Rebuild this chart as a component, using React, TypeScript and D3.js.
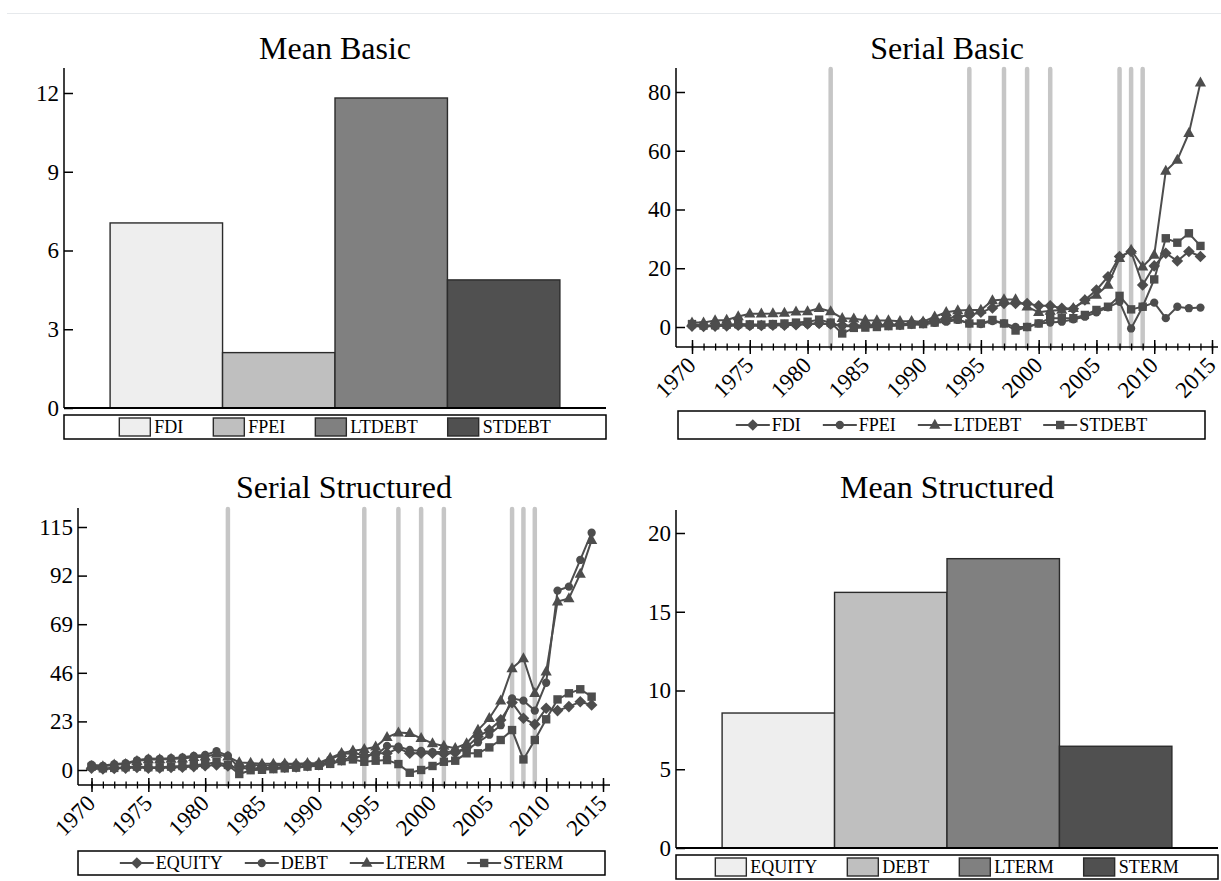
import * as d3 from "d3";
import { useEffect, useRef } from "react";

// ---- data ----
const years = [
  1970, 1971, 1972, 1973, 1974, 1975, 1976, 1977, 1978, 1979,
  1980, 1981, 1982, 1983, 1984, 1985, 1986, 1987, 1988, 1989,
  1990, 1991, 1992, 1993, 1994, 1995, 1996, 1997, 1998, 1999,
  2000, 2001, 2002, 2003, 2004, 2005, 2006, 2007, 2008, 2009,
  2010, 2011, 2012, 2013, 2014,
];
const yearTicks = [1970, 1975, 1980, 1985, 1990, 1995, 2000, 2005, 2010, 2015];
const crisisYears = [1982, 1994, 1997, 1999, 2001, 2007, 2008, 2009];

const basicNames = ["FDI", "FPEI", "LTDEBT", "STDEBT"];
const basicMeans = [7.05, 2.11, 11.81, 4.88];
const basicTicks = [0, 3, 6, 9, 12];

const structNames = ["EQUITY", "DEBT", "LTERM", "STERM"];
const structMeans = [8.57, 16.23, 18.37, 6.46];
const structTicks = [0, 5, 10, 15, 20];

const serialBasicTicks = [0, 20, 40, 60, 80];
const serialStructTicks = [0, 23, 46, 69, 92, 115];

const fdi = [
  0.3, 0.2, 0.3, 0.4, 0.6, 0.5, 0.5, 0.6, 0.6, 0.8,
  1.0, 1.2, 1.0, 0.6, 0.5, 0.6, 0.7, 0.8, 0.9, 1.2,
  1.5, 2.2, 3.0, 3.5, 4.0, 5.0, 6.5, 8.0, 8.0, 8.0,
  7.2, 7.2, 6.4, 6.2, 9.2, 12.6, 17.1, 24.0, 25.7, 14.3,
  20.8, 25.1, 22.5, 25.7, 24.0,
];
const fpei = [
  0.5, 0.3, 0.4, 0.5, 0.6, 0.4, 0.5, 0.6, 0.7, 0.8,
  1.0, 1.2, 0.9, 0.3, 0.2, 0.3, 0.4, 0.5, 0.6, 0.8,
  1.0, 1.4, 1.8, 2.4, 1.2, 1.0, 2.0, 1.2, 0.0, 0.0,
  1.2, 1.5, 1.8, 2.6, 3.5, 5.0, 6.7, 8.6, -0.5, 6.9,
  8.3, 3.0, 6.9, 6.4, 6.6,
];
const ltdebt = [
  1.5, 1.5, 2.2, 2.4, 3.6, 4.5, 4.5, 4.6, 4.8, 5.2,
  5.3, 6.4, 5.3, 3.0, 2.8, 2.3, 2.2, 2.2, 2.0, 2.0,
  1.8, 3.5, 5.0, 5.6, 5.8, 5.8, 9.0, 9.4, 9.4, 6.9,
  5.0, 5.5, 5.8, 6.4, 9.0, 10.9, 14.3, 23.4, 26.2, 20.5,
  24.5, 53.1, 56.9, 66.0, 83.2,
];
const stdebt = [
  1.0, 0.5, 0.6, 0.8, 1.0, 0.9, 0.8, 1.0, 1.2, 1.5,
  1.8, 2.5, 1.5, -2.2, -0.3, -0.2, 0.0, 0.3, 0.5, 0.8,
  1.0, 1.5, 2.4, 2.6, 1.2, 1.2, 2.4, 1.2, -1.2, 0.0,
  1.2, 3.0, 3.0, 3.0, 4.1, 5.8, 6.9, 10.6, 6.0, 6.9,
  16.2, 30.2, 28.7, 31.9, 27.6,
];

const equity = [
  0.8, 0.5, 0.7, 0.9, 1.2, 0.9, 1.0, 1.2, 1.3, 1.6,
  2.0, 2.4, 1.9, 0.9, 0.7, 0.9, 1.1, 1.3, 1.5, 2.0,
  2.5, 3.6, 4.8, 5.9, 6.5, 7.9, 7.9, 10.3, 7.9, 7.9,
  7.9, 7.6, 8.2, 10.7, 15.8, 18.9, 23.7, 31.9, 24.5, 21.6,
  29.2, 28.1, 30.0, 32.3, 30.8,
];
const debt = [
  2.5, 2.0, 2.8, 3.2, 4.6, 5.4, 5.3, 5.6, 6.0, 6.7,
  7.1, 8.9, 6.8, 0.8, 2.5, 2.1, 2.2, 2.5, 2.5, 2.8,
  2.8, 5.0, 7.4, 8.2, 7.0, 7.0, 11.4, 11.0, 9.5, 9.0,
  8.5, 8.5, 8.8, 9.4, 13.1, 16.7, 21.2, 33.9, 32.8, 28.1,
  41.3, 84.9, 86.8, 99.4, 112.3,
];
const lterm = [
  1.8, 1.7, 2.5, 2.8, 4.2, 5.0, 5.0, 5.2, 5.4, 6.0,
  6.3, 7.6, 6.3, 3.6, 3.3, 2.9, 2.9, 3.0, 2.9, 3.2,
  3.3, 5.7, 8.0, 9.1, 9.8, 11.0, 15.5, 17.7, 17.4, 15.0,
  12.6, 11.4, 10.3, 12.6, 18.9, 24.5, 32.8, 48.1, 52.8, 36.3,
  46.5, 79.7, 81.2, 92.8, 108.8,
];
const sterm = [
  1.5, 0.8, 1.0, 1.3, 1.6, 1.3, 1.3, 1.6, 1.9, 2.3,
  2.8, 3.7, 2.4, -1.9, -0.1, 0.1, 0.4, 0.8, 1.1, 1.6,
  2.0, 2.9, 4.2, 5.0, 3.9, 4.4, 4.7, 2.8, -1.3, 0.0,
  1.9, 3.9, 4.4, 7.9, 7.9, 10.7, 14.2, 18.9, 5.0, 14.2,
  24.0, 33.4, 36.3, 38.2, 34.7,
];

// ---- styles ----
const FONT = "'Liberation Serif', 'Times New Roman', serif";
const INK = "#4d4d4d";
const BAR_COLORS = ["#eeeeee", "#bfbfbf", "#808080", "#505050"];
const MARKERS = ["diamond", "circle", "triangle", "square"];
const TICK_FONT = "23px";

const markerPath = (type) => {
  if (type === "diamond") return "M0,-5.8L5.8,0L0,5.8L-5.8,0Z";
  if (type === "circle") return d3.symbol(d3.symbolCircle, 54)();
  if (type === "triangle") return "M0,-6.2L5.6,3.8L-5.6,3.8Z";
  return "M-4.2,-4.2L4.2,-4.2L4.2,4.2L-4.2,4.2Z";
};

const drawTitle = (svg, text, cx, cy) => {
  svg.append("text")
    .attr("x", cx).attr("y", cy)
    .attr("text-anchor", "middle").attr("dominant-baseline", "central")
    .style("font-family", FONT).style("font-size", "32px")
    .text(text);
};

const drawYAxis = (svg, y, ticks, left, top, bottom) => {
  const g = svg.append("g").attr("transform", `translate(${left},0)`);
  g.call(d3.axisLeft(y).tickValues(ticks).tickSize(-9).tickSizeOuter(0).tickPadding(5))
  g.select(".domain").remove();
  g.selectAll(".tick line").attr("stroke", "#000").attr("stroke-width", 1.5);
  g.selectAll(".tick text").style("font-family", FONT).style("font-size", TICK_FONT).attr("fill", "#000");
  svg.append("line")
    .attr("x1", left).attr("x2", left).attr("y1", top).attr("y2", bottom)
    .attr("stroke", "#000").attr("stroke-width", 1.5);
};

const drawBarPanel = (svg, cfg) => {
  const { title, names, values, ticks, left, right, zeroY, tickTop, tickTopY, axisTop, titleY, legendY, legendH } = cfg;
  const x = d3.scaleBand().domain(names).range([left, right]).paddingOuter(0.41).paddingInner(0);
  const y = d3.scaleLinear().domain([0, tickTop]).range([zeroY, tickTopY]);

  drawTitle(svg, title, (left + right) / 2, titleY);

  svg.append("g").selectAll("rect")
    .data(values)
    .join("rect")
    .attr("x", (d, i) => x(names[i]))
    .attr("y", (d) => y(d))
    .attr("width", x.bandwidth())
    .attr("height", (d) => y(0) - y(d))
    .attr("fill", (d, i) => BAR_COLORS[i])
    .attr("stroke", "#2b2b2b")
    .attr("stroke-width", 1.4);

  drawYAxis(svg, y, ticks, left, axisTop, zeroY);
  svg.append("line")
    .attr("x1", left).attr("x2", right).attr("y1", zeroY).attr("y2", zeroY)
    .attr("stroke", "#000").attr("stroke-width", 2);

  // legend
  svg.append("rect")
    .attr("x", left).attr("y", legendY).attr("width", right - left).attr("height", legendH)
    .attr("fill", "#fff").attr("stroke", "#000").attr("stroke-width", 1.5);
  const lg = svg.append("g");
  const items = names.map((n, i) => {
    const it = lg.append("g");
    it.append("rect").attr("x", 0).attr("y", -9).attr("width", 31).attr("height", 18)
      .attr("fill", BAR_COLORS[i]).attr("stroke", "#2b2b2b").attr("stroke-width", 1.4);
    const t = it.append("text").attr("x", 35).attr("y", 0).attr("dominant-baseline", "central")
      .style("font-family", FONT).style("font-size", "18px").text(n);
    return { it, w: 35 + t.node().getComputedTextLength() };
  });
  const gap = 30;
  const total = d3.sum(items, (d) => d.w) + gap * (items.length - 1);
  let cx = (left + right) / 2 - total / 2;
  items.forEach((d) => {
    d.it.attr("transform", `translate(${cx},${legendY + legendH / 2})`);
    cx += d.w + gap;
  });
};

const drawLinePanel = (svg, cfg) => {
  const { title, names, series, ticks, left, right, axisY, axisTop, tickTop, zeroY, tickTopY, x0, x1, titleY, legendX0, legendX1, legendY, legendH } = cfg;
  const x = d3.scaleLinear().domain([1970, 2015]).range([x0, x1]);
  const y = d3.scaleLinear().domain([0, tickTop]).range([zeroY, tickTopY]);

  drawTitle(svg, title, (left + right) / 2, titleY);

  // crisis bands
  svg.append("g").selectAll("line")
    .data(crisisYears)
    .join("line")
    .attr("x1", (d) => x(d)).attr("x2", (d) => x(d))
    .attr("y1", axisTop + 1).attr("y2", axisY)
    .attr("stroke", "#c6c6c6").attr("stroke-width", 4.5).attr("stroke-linecap", "round");

  const line = d3.line().x((d, i) => x(years[i])).y((d) => y(d));
  series.forEach((s, k) => {
    const g = svg.append("g");
    g.append("path").attr("d", line(s)).attr("fill", "none").attr("stroke", INK).attr("stroke-width", 2);
    g.selectAll("path.m")
      .data(s)
      .join("path")
      .attr("class", "m")
      .attr("transform", (d, i) => `translate(${x(years[i])},${y(d)})`)
      .attr("d", markerPath(MARKERS[k]))
      .attr("fill", INK);
  });

  drawYAxis(svg, y, ticks, left, axisTop, axisY);

  // x axis: minor and major ticks crossing the line
  const minor = svg.append("g").attr("transform", `translate(0,${axisY})`)
    .call(d3.axisBottom(x).tickValues(d3.range(1970, 2016)).tickSize(3.5).tickFormat(() => ""));
  minor.select(".domain").remove();
  minor.selectAll(".tick line").attr("y1", -3.5).attr("stroke", "#000").attr("stroke-width", 1.3);

  const major = svg.append("g").attr("transform", `translate(0,${axisY})`)
    .call(d3.axisBottom(x).tickValues(yearTicks).tickSize(7).tickFormat(d3.format("d")));
  major.select(".domain").remove();
  major.selectAll(".tick line").attr("y1", -7).attr("stroke", "#000").attr("stroke-width", 1.5);
  major.selectAll(".tick text")
    .attr("y", null).attr("dy", "0.35em")
    .attr("text-anchor", "end")
    .attr("transform", "translate(-1,14) rotate(-45)")
    .style("font-family", FONT).style("font-size", TICK_FONT).attr("fill", "#000");

  svg.append("line")
    .attr("x1", left).attr("x2", right).attr("y1", axisY).attr("y2", axisY)
    .attr("stroke", "#000").attr("stroke-width", 1.5);

  // legend
  svg.append("rect")
    .attr("x", legendX0).attr("y", legendY).attr("width", legendX1 - legendX0).attr("height", legendH)
    .attr("fill", "#fff").attr("stroke", "#000").attr("stroke-width", 1.5);
  const lg = svg.append("g");
  const items = names.map((n, i) => {
    const it = lg.append("g");
    it.append("line").attr("x1", 0).attr("x2", 34).attr("y1", 0).attr("y2", 0)
      .attr("stroke", INK).attr("stroke-width", 2);
    it.append("path").attr("d", markerPath(MARKERS[i])).attr("transform", "translate(17,0)").attr("fill", INK);
    const t = it.append("text").attr("x", 36).attr("y", 0).attr("dominant-baseline", "central")
      .style("font-family", FONT).style("font-size", "18px").text(n);
    return { it, w: 36 + t.node().getComputedTextLength() };
  });
  const gap = 22;
  const total = d3.sum(items, (d) => d.w) + gap * (items.length - 1);
  let cx = (legendX0 + legendX1) / 2 - total / 2;
  items.forEach((d) => {
    d.it.attr("transform", `translate(${cx},${legendY + legendH / 2})`);
    cx += d.w + gap;
  });
};

const App = () => {
  const ref = useRef(null);

  useEffect(() => {
    const svg = d3.select(ref.current);
    svg.selectAll("*").remove();

    svg.append("line")
      .attr("x1", 7).attr("x2", 1221).attr("y1", 13.5).attr("y2", 13.5)
      .attr("stroke", "#e6e9ec").attr("stroke-width", 1);

    drawBarPanel(svg, {
      title: "Mean Basic", names: basicNames, values: basicMeans, ticks: basicTicks,
      left: 64, right: 606, zeroY: 408, tickTop: 12, tickTopY: 93, axisTop: 68,
      titleY: 48, legendY: 415, legendH: 24,
    });

    drawLinePanel(svg, {
      title: "Serial Basic", names: basicNames, series: [fdi, fpei, ltdebt, stdebt],
      ticks: serialBasicTicks, left: 676, right: 1218, axisY: 347, axisTop: 68,
      tickTop: 80, zeroY: 327, tickTopY: 92, x0: 692, x1: 1212, titleY: 48,
      legendX0: 678, legendX1: 1205, legendY: 411, legendH: 28,
    });

    drawLinePanel(svg, {
      title: "Serial Structured", names: structNames, series: [equity, debt, lterm, sterm],
      ticks: serialStructTicks, left: 78, right: 610, axisY: 785, axisTop: 508,
      tickTop: 115, zeroY: 770, tickTopY: 527, x0: 91.5, x1: 603, titleY: 487,
      legendX0: 78, legendX1: 605, legendY: 851, legendH: 24,
    });

    drawBarPanel(svg, {
      title: "Mean Structured", names: structNames, values: structMeans, ticks: structTicks,
      left: 676, right: 1218, zeroY: 848, tickTop: 20, tickTopY: 533, axisTop: 510,
      titleY: 487, legendY: 855, legendH: 24,
    });
  }, []);

  return (
    <svg
      ref={ref}
      width={1221}
      height={881}
      style={{ position: "absolute", left: 0, top: 0, background: "#fff" }}
    />
  );
};

export default App;
